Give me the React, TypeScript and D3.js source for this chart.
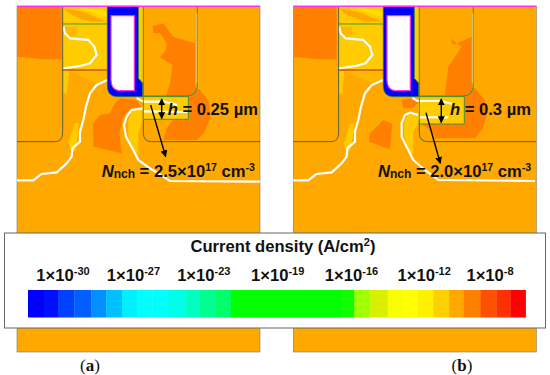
import React from "react";
import * as d3 from "d3";

type P = [number, number];
const DARK = "#FF8000", BASE = "#FFA800", YEL = "#FFCC00", PALE = "#FFB800", LY = "#FFE000";

const legendTicks = [["-30", 1], ["-27", 7.1], ["-23", 13.2], ["-19", 19.6], ["-16", 26], ["-12", 32.3], ["-8", 38]];
const bandEdges = [80,125,167,212,260,303,348,390,435,478,528,570,613,658,972,1010,1055,1105,1150,1190,1235,1280,1322,1370,1415,1455,1498];
const bandColors = ["#0000FF","#0010FF","#0040FF","#0060FF","#0090FF","#00C0FF","#00F0FF","#00FFFF","#00FFFF","#00FFE8","#00FFC0","#00FF90","#00FF68",
"#00FF00","#10FF00","#A0FF00","#D8F000","#F8FF00","#FFFF00","#FFF000","#FFD000","#FFA800","#FF8000","#FF5000","#FF3000","#FF0000"];

// Panel (a) regions
const aDark: P[][] = [
  [[51,19],[185,19],[185,178],[130,178],[51,170]],
  [[458,78],[490,70],[520,110],[570,125],[585,130],[585,262],[600,270],[625,300],[632,350],[612,400],[590,420],[490,420],[500,385],[520,358],[565,358],[565,290],[498,288],[510,250],[518,195],[480,172],[498,150],[500,130],[480,100],[460,100]],
  [[300,345],[330,340],[345,310],[362,295],[410,300],[425,322],[395,325],[372,345],[358,400],[365,460],[280,440],[278,372]],
];
const aPale: P[][] = [
  [[205,212],[322,212],[322,240],[290,250],[268,240],[232,225]],
  [[190,80],[230,80],[230,108],[205,112]],
];
const aYellow: P[][] = [
  [[188,19],[322,19],[322,72],[188,72]],
  [[188,72],[322,72],[322,210],[188,210]],
  [[415,19],[430,19],[430,245],[415,235]],
  [[190,212],[208,212],[200,282],[190,280]],
  [[225,370],[236,370],[232,420],[226,450],[215,460],[205,430]],
  [[395,335],[425,325],[425,370],[415,400],[415,462],[405,455],[385,410],[385,360]],
  [[430,290],[565,290],[565,358],[430,358]],
];
const aStripes: P[][] = [
  [[190,25],[250,35],[320,65],[270,65],[215,45]],
  [[240,22],[320,35],[320,50],[280,40]],
];
const aContours: P[][] = [
  [[190,80],[195,100],[210,115],[265,120],[283,140],[290,165],[270,190],[240,198],[190,205]],
  [[51,541],[100,541],[125,522],[170,517],[200,490],[215,470],[217,445],[240,425],[240,395],[250,360],[258,320],[270,280],[290,255],[322,240]],
  [[428,325],[395,330],[380,350],[372,375],[378,410],[405,460],[415,480],[450,505],[490,530],[510,543],[780,545]],
  [[410,294],[430,305],[495,305],[532,315]],
  [[430,334],[562,336]],
  [[592,40],[592,250]],
];
const aRect: [number, number] = [565, 358];

// Panel (b) regions
const bDark: P[][] = [
  [[55,19],[185,19],[185,178],[130,178],[55,170]],
  [[525,115],[535,135],[590,110],[590,262],[600,265],[630,300],[636,340],[625,385],[600,415],[480,415],[470,392],[440,372],[568,372],[568,288],[510,285],[520,200],[560,140]],
  [[325,360],[352,372],[345,448],[282,425],[285,400]],
  [[380,300],[415,295],[430,310],[410,325],[385,325]],
];
const bPale: P[][] = [
  [[205,212],[325,212],[325,240],[293,250],[268,240],[232,225]],
  [[192,80],[232,80],[232,108],[207,112]],
];
const bYellow: P[][] = [
  [[190,19],[325,19],[325,72],[190,72]],
  [[190,72],[325,72],[325,210],[190,210]],
  [[417,19],[432,19],[432,245],[417,235]],
  [[192,212],[208,212],[202,282],[192,280]],
  [[225,372],[238,370],[232,420],[226,450],[215,460],[207,430]],
  [[398,345],[430,340],[430,370],[415,395],[415,462],[405,455],[388,410],[388,365]],
  [[430,290],[568,290],[568,372],[430,372]],
];
const bStripes: P[][] = [
  [[192,25],[250,35],[322,65],[270,65],[215,45]],
  [[240,22],[322,35],[322,50],[280,40]],
];
const bContours: P[][] = [
  [[192,80],[197,100],[212,115],[265,120],[285,140],[292,165],[272,190],[242,198],[192,205]],
  [[55,541],[100,541],[125,522],[170,517],[200,490],[215,470],[217,445],[240,425],[240,395],[250,360],[258,320],[270,280],[290,255],[325,240]],
  [[430,345],[405,338],[390,345],[380,370],[380,410],[400,450],[415,480],[450,510],[490,540],[780,543]],
  [[412,294],[428,303],[495,303],[535,312]],
  [[432,352],[520,352]],
  [[595,40],[595,250]],
];
const bRect: [number, number] = [568, 372];

function Panel({ left, x0, gate, dark, pale, yellow, stripes, contours, rect, h, nch, hx, hArrow, nArrow, label, labelX }: any) {
  const x = d3.scaleLinear().domain([x0, x0 + 729]).range([left, left + 243]);
  const y = d3.scaleLinear().domain([19, 1056]).range([6.3, 352]);
  const line = d3.line<P>().x(d => x(d[0])).y(d => y(d[1]));
  const poly = (p: P[]) => line(p) + "Z";
  const g = gate; // gate left edge
  const R = x0 + 729;
  const gateOuter = `M${x(g)} ${y(19)}H${x(g + 93)}V${y(235)}L${x(g + 106)} ${y(250)}V${y(290)}H${x(g + 30)}Q${x(g)} ${y(290)} ${x(g)} ${y(258)}Z`;
  const gateInner = `M${x(g + 11)} ${y(47)}H${x(g + 81)}V${y(272)}H${x(g + 34)}Q${x(g + 11)} ${y(268)} ${x(g + 11)} ${y(240)}Z`;
  const sl = g - 134;
  const dr = g + 108;
  return (
    <g>
      <rect x={x(x0)} y={y(19)} width={243} height={y(1056) - y(19)} fill={BASE} stroke="#8a7a5a" strokeWidth={0.6} />
      <g filter="url(#soft)">
        {yellow.map((p: P[], i: number) => <path key={i} d={poly(p)} fill={YEL} />)}
        {stripes.map((p: P[], i: number) => <path key={i} d={poly(p)} fill={i ? LY : "#FFA800"} />)}
        {pale.map((p: P[], i: number) => <path key={i} d={poly(p)} fill={PALE} />)}
        {dark.map((p: P[], i: number) => <path key={i} d={poly(p)} fill={DARK} />)}
        <path d={poly([[dr + 2, 290], [rect[0], 290], [rect[0], rect[1]], [dr + 2, rect[1]]])} fill={YEL} />
        {contours.map((p: P[], i: number) => <path key={i} d={line(p)!} fill="none" stroke="#fff" strokeWidth={i === 5 ? 1.4 : 2.2} strokeLinejoin="round" />)}
        <path d={gateOuter} fill="#0000F8" stroke="#2E7D32" strokeWidth={0.8} />
        <path d={gateInner} fill="#fff" stroke="#FF30E0" strokeWidth={1.2} />
        <g fill="none" stroke="#3B7A3B" strokeWidth={0.9}>
          <path d={`M${x(sl)} ${y(19)}V${y(398)}Q${x(sl)} ${y(425)} ${x(sl - 22)} ${y(425)}H${x(x0)}`} stroke="#4a5a4a" />
          <path d={`M${x(dr)} ${y(360)}V${y(398)}Q${x(dr)} ${y(425)} ${x(dr + 25)} ${y(425)}H${x(R)}`} stroke="#4a5a4a" />
          <path d={`M${x(dr)} ${y(19)}V${y(288)}H${x(dr + 130)}Q${x(dr + 162)} ${y(288)} ${x(dr + 162)} ${y(255)}V${y(19)}`} stroke="#2F8F3F" />
          <path d={`M${x(dr)} ${y(290)}H${x(rect[0])}V${y(rect[1])}H${x(dr)}Z`} stroke="#2F8F3F" />
          <path d={`M${x(sl)} ${y(72)}H${x(g)}`} stroke="#2F8F3F" />
          <path d={`M${x(sl)} ${y(210)}H${x(g)}`} stroke="#B01020" />
        </g>
      </g>
      <line x1={x(x0)} x2={x(R)} y1={y(19)} y2={y(19)} stroke="#FF30F0" strokeWidth={1.4} />
      <g stroke="#000" strokeWidth={1.4} fill="none">
        <line x1={x(hArrow[0])} x2={x(hArrow[0])} y1={y(hArrow[1])} y2={y(hArrow[2])} markerStart="url(#head)" markerEnd="url(#head)" />
        <line x1={x(nArrow[0])} y1={y(nArrow[1])} x2={x(nArrow[2])} y2={y(nArrow[3])} markerEnd="url(#head)" />
      </g>
      <g fontFamily="'Liberation Sans'" fontWeight={700} fontSize={16.6} fill="#111">
        <text x={x(hx)} y={y(345)}><tspan fontStyle="italic">h</tspan> = {h} µm</text>
        <text x={x(x0 + 254)} y={y(530)}>
          <tspan fontStyle="italic">N</tspan><tspan fontSize={12} dy={1.5}>nch</tspan>
          <tspan dy={-1.5}> = {nch}×10</tspan><tspan fontSize={10.5} dy={-6}>17</tspan><tspan dy={6}> cm</tspan><tspan fontSize={10.5} dy={-6}>-3</tspan>
        </text>
      </g>
      <text x={labelX} y={371} textAnchor="middle" fontFamily="'Liberation Serif'" fontSize={17} fill="#111">(<tspan fontWeight={700}>{label}</tspan>)</text>
    </g>
  );
}

export default function App() {
  const band = d3.scaleLinear().domain([80, 1498]).range([28, 525.6]);
  const tickX = d3.scaleLinear().domain([1, 38]).range([63, 490]);
  return (
    <svg width={550} height={375} style={{ position: "absolute", left: 0, top: 0, background: "#fff" }}>
      <defs>
        <filter id="soft" x="-2%" y="-2%" width="104%" height="104%"><feGaussianBlur stdDeviation={0.35} /></filter>
        <marker id="head" viewBox="0 0 10 10" refX={9} refY={5} markerWidth={7} markerHeight={7} markerUnits="userSpaceOnUse" orient="auto-start-reverse">
          <path d="M0 0L10 5L0 10Z" fill="#000" />
        </marker>
      </defs>
      <Panel left={17} x0={51} gate={322} dark={aDark} pale={aPale} yellow={aYellow} stripes={aStripes} contours={aContours} rect={aRect}
        h="0.25" nch="2.5" hx={503} hArrow={[485, 297, 356]} nArrow={[452, 315, 497, 470]} label="a" labelX={90} />
      <Panel left={293.3} x0={55} gate={325} dark={bDark} pale={bPale} yellow={bYellow} stripes={bStripes} contours={bContours} rect={bRect}
        h="0.3" nch="2.0" hx={525} hArrow={[499, 297, 368]} nArrow={[453, 338, 496, 490]} label="b" labelX={462} />
      <rect x={4.5} y={233} width={541} height={95} fill="#fff" stroke="#666" strokeWidth={1} />
      {bandColors.map((c, i) => <rect key={i} x={band(bandEdges[i])} y={290} width={band(bandEdges[i + 1]) - band(bandEdges[i]) + 0.3} height={27.5} fill={c} />)}
      <g fontFamily="'Liberation Sans'" fontWeight={700} fill="#111">
        <text x={283} y={252} textAnchor="middle" fontSize={16.6}>Current density (A/cm<tspan fontSize={11} dy={-6}>2</tspan><tspan dy={6}>)</tspan></text>
        {legendTicks.map(([e, v]) => (
          <text key={e as string} x={tickX(v as number)} y={281} textAnchor="middle" fontSize={16.6}>1×10<tspan fontSize={11} dy={-6}>{e}</tspan></text>
        ))}
      </g>
    </svg>
  );
}
